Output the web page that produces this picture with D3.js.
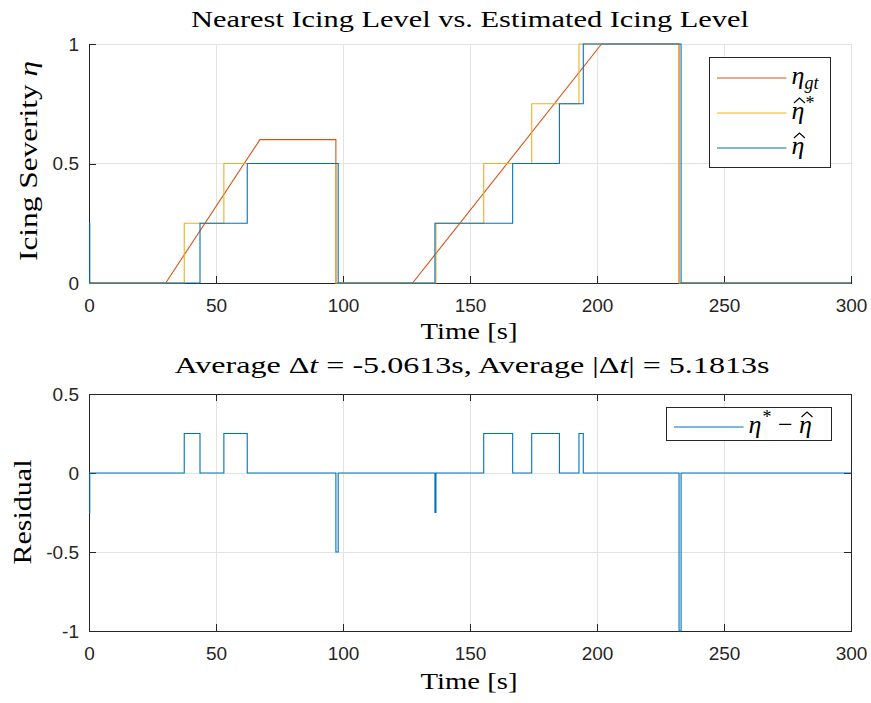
<!DOCTYPE html>
<html><head><meta charset="utf-8">
<script src="https://cdn.jsdelivr.net/npm/d3@7"></script>
<style>
body{margin:0;background:#fff;}
svg{display:block;}
.serif{font-family:"Liberation Serif","DejaVu Serif",serif;fill:#000;}
.tick text{font-family:"Liberation Sans",Arial,sans-serif;font-size:19px;fill:#262626;}
</style></head><body>
<svg id="c" width="871" height="703"></svg>
<script>
// ---- data ----
const xTicks = [0, 50, 100, 150, 200, 250, 300];
const yTicksTop = [0, 0.5, 1];
const yTicksBot = [-1, -0.5, 0, 0.5];
const yTickLabelsTop = ["0", "0.5", "1"];
const yTickLabelsBot = ["-1", "-0.5", "0", "0.5"];

// ground truth eta_gt (piecewise linear)
const gtTime  = [0, 30.2, 67.3, 97.2, 97.2, 127.4, 201.8, 232.3, 232.3, 300];
const gtValue = [0, 0,    0.6,  0.6,  0,    0,     1,     1,     0,     0];

// nearest level eta* (step, value holds until next time)
const starTime  = [0, 37.5, 53.1, 97.2, 136.6, 155.4, 174.3, 192.9, 232.3, 300];
const starValue = [0, 0.25, 0.5,  0,    0.25,  0.5,   0.75,  1,     0,     0];

// estimated level eta-hat (step)
const hatTime  = [0,    0.3, 43.7, 62.3, 98.1, 136.2, 166.8, 185.2, 194.6, 233.1, 300];
const hatValue = [0.25, 0,   0.25, 0.5,  0,    0.25,  0.5,   0.75,  1,     0,     0];

// residual eta* - eta-hat (step)
const resTime  = [0,     0.3, 37.5, 43.7, 53.1, 62.3, 97.2, 98.1, 136.2, 136.6, 155.4, 166.8, 174.3, 185.2, 192.9, 194.6, 232.3, 233.1, 300];
const resValue = [-0.25, 0,   0.25, 0,    0.25, 0,    -0.5, 0,    -0.25, 0,     0.25,  0,     0.25,  0,     0.25,  0,     -1,    0,     0];

// ---- style ----
const C_BLUE = "#0072BD", C_ORANGE = "#D95319", C_YEL = "#EDB120";
const AX = "#262626", GRID = "#e3e3e3";
const svg = d3.select("#c");
const L = 89, R = 851;
const x = d3.scaleLinear().domain([0, 300]).range([L, R]);
const yTop = d3.scaleLinear().domain([0, 1]).range([283, 44]);
const yBot = d3.scaleLinear().domain([-1, 0.5]).range([631, 394]);

function zip(t, v){ return t.map((d,i)=>[d, v[i]]); }

function panel(y, yTicks, yLabels, boxOn){
  const g = svg.append("g");
  const [y0, y1] = y.range();
  g.append("g").selectAll("line").data(xTicks).join("line")
    .attr("x1", d=>x(d)).attr("x2", d=>x(d)).attr("y1", y0).attr("y2", y1)
    .attr("stroke", GRID).attr("stroke-width", 1).attr("shape-rendering","crispEdges");
  g.append("g").selectAll("line").data(yTicks).join("line")
    .attr("x1", L).attr("x2", R).attr("y1", d=>y(d)).attr("y2", d=>y(d))
    .attr("stroke", GRID).attr("stroke-width", 1).attr("shape-rendering","crispEdges");
  const xa = g.append("g").attr("transform", `translate(0,${y0})`)
    .call(d3.axisBottom(x).tickValues(xTicks).tickSize(-7).tickPadding(16).tickFormat(d3.format("d")));
  const ya = g.append("g").attr("transform", `translate(${L},0)`)
    .call(d3.axisLeft(y).tickValues(yTicks).tickSize(-7).tickPadding(10).tickFormat((d,i)=>yLabels[i]));
  [xa, ya].forEach(a=>{
    a.select(".domain").attr("stroke", AX).attr("shape-rendering","crispEdges");
    a.selectAll(".tick line").attr("stroke", AX).attr("shape-rendering","crispEdges");
  });
  if (boxOn){
    const xt = g.append("g").attr("transform", `translate(0,${y1})`)
      .call(d3.axisTop(x).tickValues(xTicks).tickSize(-7).tickFormat(""));
    const yr = g.append("g").attr("transform", `translate(${R},0)`)
      .call(d3.axisRight(y).tickValues(yTicks).tickSize(-7).tickFormat(""));
    [xt, yr].forEach(a=>{
      a.select(".domain").attr("stroke", AX).attr("shape-rendering","crispEdges");
      a.selectAll(".tick line").attr("stroke", AX).attr("shape-rendering","crispEdges");
    });
  }
  return g;
}

const gTop = panel(yTop, yTicksTop, yTickLabelsTop, false);
const gBot = panel(yBot, yTicksBot, yTickLabelsBot, true);

const lineTop = d3.line().x(d=>x(d[0])).y(d=>yTop(d[1]));
const stepTop = d3.line().x(d=>x(d[0])).y(d=>yTop(d[1])).curve(d3.curveStepAfter);
const stepBot = d3.line().x(d=>x(d[0])).y(d=>yBot(d[1])).curve(d3.curveStepAfter);

gTop.append("path").datum(zip(gtTime, gtValue)).attr("d", lineTop)
  .attr("fill","none").attr("stroke", C_ORANGE).attr("stroke-width", 1.1);
gTop.append("path").datum(zip(starTime, starValue)).attr("d", stepTop)
  .attr("fill","none").attr("stroke", C_YEL).attr("stroke-width", 1.1);
gTop.append("path").datum(zip(hatTime, hatValue)).attr("d", stepTop)
  .attr("fill","none").attr("stroke", C_BLUE).attr("stroke-width", 1.1);
gBot.append("path").datum(zip(resTime, resValue)).attr("d", stepBot)
  .attr("fill","none").attr("stroke", C_BLUE).attr("stroke-width", 1.1);

// ---- text ----
function serif(xp, yp, size){
  return svg.append("text").attr("class","serif").attr("x", xp).attr("y", yp)
    .attr("font-size", size).attr("text-anchor","middle");
}
serif(470, 27, 24).attr("textLength", 558).attr("lengthAdjust","spacingAndGlyphs")
  .text("Nearest Icing Level vs. Estimated Icing Level");

const t2 = serif(472, 373, 24).attr("textLength", 595).attr("lengthAdjust","spacingAndGlyphs");
t2.append("tspan").text("Average Δ");
t2.append("tspan").attr("font-style","italic").text("t");
t2.append("tspan").text(" = -5.0613s, Average |Δ");
t2.append("tspan").attr("font-style","italic").text("t");
t2.append("tspan").text("| = 5.1813s");

serif(469, 339, 23).attr("textLength", 97).attr("lengthAdjust","spacingAndGlyphs").text("Time [s]");
serif(469, 689, 23).attr("textLength", 97).attr("lengthAdjust","spacingAndGlyphs").text("Time [s]");

const yl = serif(0, 0, 25).attr("transform","translate(37,161) rotate(-90)")
  .attr("textLength", 200).attr("lengthAdjust","spacingAndGlyphs");
yl.append("tspan").text("Icing Severity ");
yl.append("tspan").attr("font-style","italic").text("η");
serif(0, 0, 25).attr("transform","translate(31,512) rotate(-90)")
  .attr("textLength", 105).attr("lengthAdjust","spacingAndGlyphs").text("Residual");

// hat accent over an italic eta tspan
function addHat(g, tspan, baseY){
  const n = tspan.node();
  const s = n.getStartPositionOfChar(0).x, e = n.getEndPositionOfChar(0).x;
  const cx = (s + e) / 2 + 1.5;
  const top = baseY - 21;
  g.append("path")
    .attr("d", `M${cx-5.5},${top+5} L${cx},${top} L${cx+5.5},${top+5}`)
    .attr("fill","none").attr("stroke","#000").attr("stroke-width",1.1);
}

// legends
function legend(x0, y0, w, h, items){
  const g = svg.append("g");
  g.append("rect").attr("x", x0).attr("y", y0).attr("width", w).attr("height", h)
    .attr("fill","#fff").attr("stroke", AX).attr("stroke-width", 1).attr("shape-rendering","crispEdges");
  items.forEach(it=>{
    g.append("line").attr("x1", x0+7.5).attr("x2", x0+77).attr("y1", it.y).attr("y2", it.y)
      .attr("stroke", it.color).attr("stroke-width", 1.1);
    const base = it.y + 6;
    const t = g.append("text").attr("class","serif").attr("x", x0+82).attr("y", base)
      .attr("font-size", 26);
    it.label(t, g, base);
  });
}
legend(709.5, 57.5, 121, 110, [
  {y:78, color:C_ORANGE, label:(t)=>{
    t.append("tspan").attr("font-style","italic").text("η");
    t.append("tspan").attr("font-style","italic").attr("font-size",18).attr("dy",5).text("gt");
  }},
  {y:113, color:C_YEL, label:(t,g,b)=>{
    const e = t.append("tspan").attr("font-style","italic").text("η");
    t.append("tspan").attr("font-size",18).attr("dx",1).attr("dy",-10).text("*");
    addHat(g, e, b);
  }},
  {y:148, color:C_BLUE, label:(t,g,b)=>{
    const e = t.append("tspan").attr("font-style","italic").text("η");
    addHat(g, e, b);
  }}
]);
legend(666.5, 407.5, 165, 33, [
  {y:427, color:C_BLUE, label:(t,g,b)=>{
    t.append("tspan").attr("font-style","italic").text("η");
    t.append("tspan").attr("font-size",18).attr("dx",1).attr("dy",-10).text("*");
    t.append("tspan").attr("dy",10).text(" − ");
    const e = t.append("tspan").attr("font-style","italic").text("η");
    addHat(g, e, b);
  }}
]);
</script>
</body></html>
